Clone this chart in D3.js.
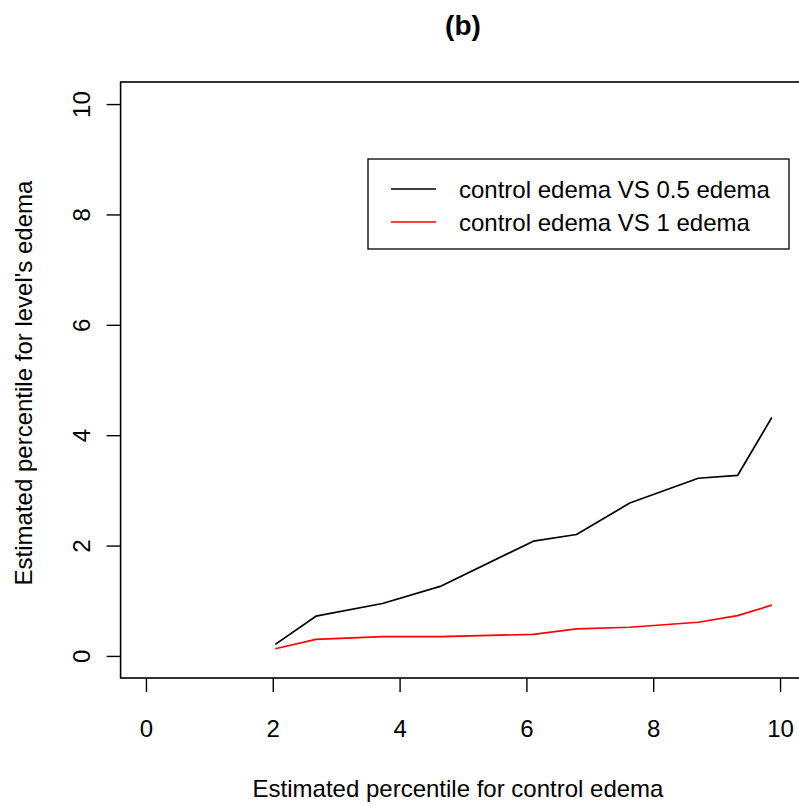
<!DOCTYPE html>
<html>
<head>
<meta charset="utf-8">
<script src="https://cdn.jsdelivr.net/npm/d3@7"></script>
<style>
  body { margin: 0; background: #fff; }
  text { font-family: "Liberation Sans", Arial, sans-serif; }
</style>
</head>
<body>
<div id="chart"></div>
<script>
"use strict";

// values
var xVals = [2.04, 2.68, 3.73, 4.64, 6.11, 6.79, 7.63, 8.71, 9.33, 9.87];
var halfEdema = [0.21, 0.72, 0.95, 1.26, 2.08, 2.20, 2.77, 3.22, 3.27, 4.32];
var oneEdema = [0.13, 0.30, 0.35, 0.35, 0.39, 0.49, 0.52, 0.61, 0.73, 0.92];
var xTicks = [0, 2, 4, 6, 8, 10];
var yTicks = [0, 2, 4, 6, 8, 10];
var seriesNames = ["control edema VS 0.5 edema", "control edema VS 1 edema"];
var seriesColors = ["#000000", "#ff0000"];

var W = 799, H = 806;
var fs = "24px";

var svg = d3.select("#chart").append("svg")
    .attr("width", W)
    .attr("height", H);

// R style: range 0..10 padded by 4% on each side
var x = d3.scaleLinear().domain([-0.4, 10.4]).range([120.6, 805.4]);
var y = d3.scaleLinear().domain([-0.4, 10.4]).range([678, 82]);

// box
svg.append("rect")
    .attr("x", x(-0.4)).attr("y", y(10.4))
    .attr("width", x(10.4) - x(-0.4))
    .attr("height", y(-0.4) - y(10.4))
    .attr("fill", "none").attr("stroke", "#000").attr("stroke-width", 1.6);

// x axis
var xAxis = svg.append("g")
    .attr("transform", "translate(0," + y(-0.4) + ")")
    .call(d3.axisBottom(x).tickValues(xTicks).tickSize(14).tickSizeOuter(0));
xAxis.select(".domain").remove();
xAxis.selectAll("line").attr("stroke-width", 1.4);
xAxis.selectAll("text")
    .attr("y", 59).attr("dy", null)
    .attr("font-family", null)
    .style("font-size", fs);

// y axis, labels rotated like R
var yAxis = svg.append("g")
    .attr("transform", "translate(" + x(-0.4) + ",0)")
    .call(d3.axisLeft(y).tickValues(yTicks).tickSize(14).tickSizeOuter(0));
yAxis.select(".domain").remove();
yAxis.selectAll("line").attr("stroke-width", 1.4);
yAxis.selectAll("text")
    .attr("x", null).attr("dy", null)
    .attr("transform", "translate(-30.5,0) rotate(-90)")
    .attr("text-anchor", "middle")
    .attr("font-family", null)
    .style("font-size", fs);

// lines
var line = d3.line()
    .x(function(d) { return x(d[0]); })
    .y(function(d) { return y(d[1]); });

[halfEdema, oneEdema].forEach(function(s, i) {
  svg.append("path")
      .datum(xVals.map(function(v, j) { return [v, s[j]]; }))
      .attr("d", line)
      .attr("fill", "none")
      .attr("stroke", seriesColors[i])
      .attr("stroke-width", 1.7)
      .attr("stroke-linejoin", "round");
});

// legend
var lg = svg.append("g");
lg.append("rect")
    .attr("x", 368).attr("y", 159).attr("width", 421).attr("height", 90)
    .attr("fill", "#fff").attr("stroke", "#000").attr("stroke-width", 1.3);
seriesNames.forEach(function(n, i) {
  var yy = 189 + i * 33;
  lg.append("line")
      .attr("x1", 391).attr("x2", 436).attr("y1", yy).attr("y2", yy)
      .attr("stroke", seriesColors[i]).attr("stroke-width", 1.4);
  lg.append("text")
      .attr("x", 459).attr("y", yy + 8.5)
      .style("font-size", fs)
      .text(n);
});

// titles
svg.append("text")
    .attr("x", 463).attr("y", 35)
    .attr("text-anchor", "middle")
    .style("font-size", "28px").style("font-weight", "bold")
    .text("(b)");

svg.append("text")
    .attr("x", 458).attr("y", 797)
    .attr("text-anchor", "middle")
    .style("font-size", fs)
    .text("Estimated percentile for control edema");

svg.append("text")
    .attr("transform", "translate(32,383) rotate(-90)")
    .attr("text-anchor", "middle")
    .style("font-size", fs)
    .text("Estimated percentile for level's edema");
</script>
</body>
</html>
